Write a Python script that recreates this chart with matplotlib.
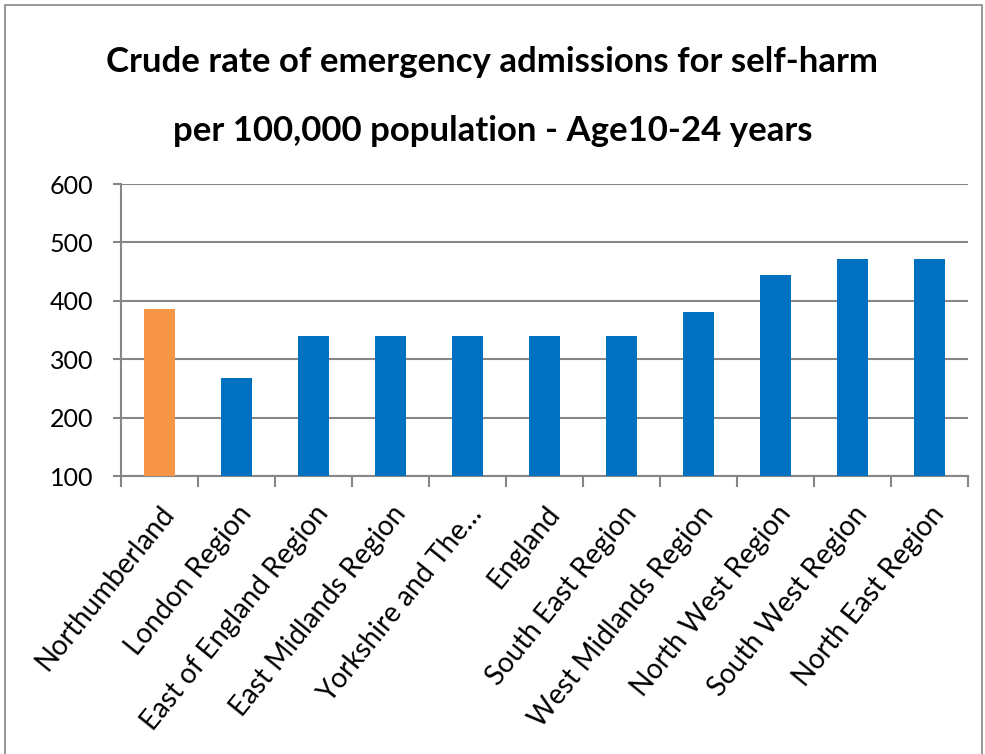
import numpy as np
import matplotlib
matplotlib.use("Agg")
import matplotlib.pyplot as plt
from matplotlib.patches import Rectangle

# Data
regions = [
    "Northumberland", "London Region", "East of England Region",
    "East Midlands Region", "Yorkshire and The\u2026", "England",
    "South East Region", "West Midlands Region", "North West Region",
    "South West Region", "North East Region",
]
rates = [386, 268, 340, 340, 340, 340, 340, 381, 444, 472, 472]
bar_colors = ["#F79646"] + ["#0070C0"] * 10
y_ticks = [100, 200, 300, 400, 500, 600]

plt.rcParams["font.family"] = ["Lato", "DejaVu Sans"]
grid_grey = "#868686"

fig = plt.figure(figsize=(9.85, 7.54), dpi=100)
ax = fig.add_axes([121 / 985, 1 - 476 / 754, (968 - 121) / 985, (476 - 184) / 754])

x = np.arange(len(regions))
ax.bar(x, np.array(rates) - 100, bottom=100, width=0.4, color=bar_colors, zorder=3)

ax.set_xlim(-0.5, len(regions) - 0.5)
ax.set_ylim(100, 600)
ax.set_yticks(y_ticks)
ax.set_yticklabels([str(v) for v in y_ticks], fontsize=18)
ax.yaxis.grid(True, color=grid_grey, linewidth=1.5, zorder=0)
ax.set_axisbelow(True)

# category ticks sit between the bars, labels at the bar centres
ax.set_xticks(np.arange(-0.5, len(regions)), minor=False)
ax.set_xticklabels([])
ax.set_xticks(x, minor=True)
ax.set_xticklabels(regions, minor=True, rotation=51, ha="right",
                   rotation_mode="anchor", fontsize=20)
ax.tick_params(axis="x", which="major", length=8, width=1.5, color=grid_grey)
ax.tick_params(axis="x", which="minor", length=0, pad=18)
ax.tick_params(axis="y", length=6, width=1.5, color=grid_grey, pad=14)

for side in ["top", "right"]:
    ax.spines[side].set_visible(False)
for side in ["left", "bottom"]:
    ax.spines[side].set_color(grid_grey)
    ax.spines[side].set_linewidth(1.5)

fig.text(0.5, 1 - 62 / 754, "Crude rate of emergency admissions for self-harm",
         ha="center", va="center", fontsize=25, fontweight="bold")
fig.text(0.5, 1 - 131 / 754, "per 100,000 population - Age10-24 years",
         ha="center", va="center", fontsize=25, fontweight="bold")

# chart area border
fig.patches.append(Rectangle((5 / 985, -0.05), 977 / 985, 1.05 - 5 / 754,
                             transform=fig.transFigure, fill=False,
                             edgecolor=grid_grey, linewidth=1.2))

fig.savefig("out.png", dpi=100, facecolor="white")
